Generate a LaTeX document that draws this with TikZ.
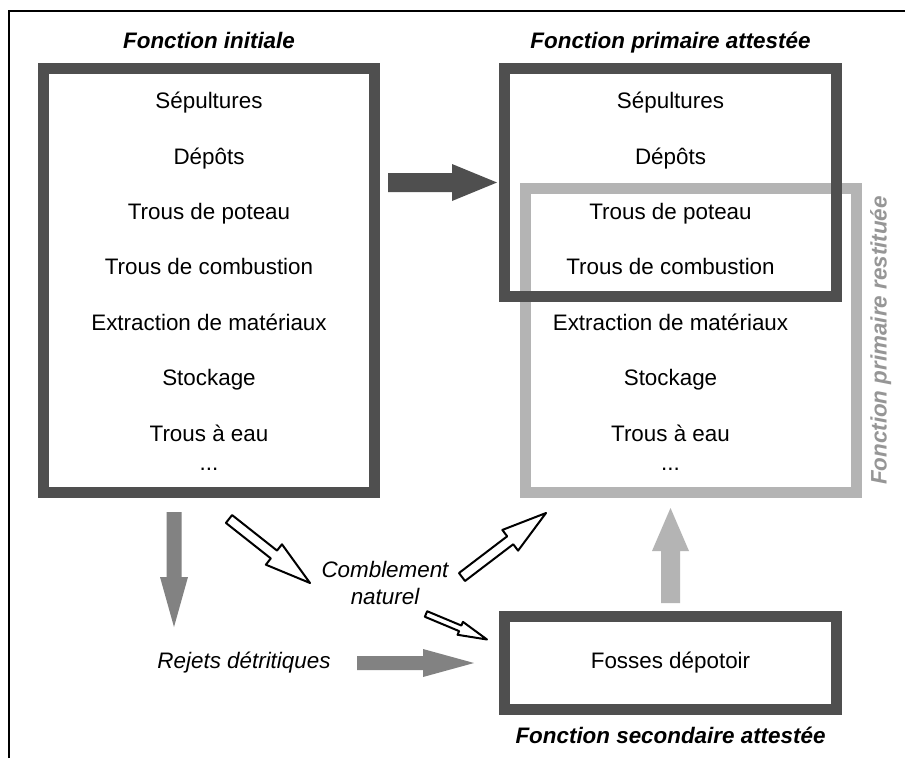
\documentclass[tikz,border=0pt]{standalone}
\usepackage{fontspec}
\setmainfont{Liberation Sans}
\usetikzlibrary{calc,positioning}
\definecolor{boxdark}{RGB}{79,79,79}
\definecolor{boxlight}{RGB}{180,180,180}
\definecolor{arrowgrey}{RGB}{130,130,130}
\definecolor{labelgrey}{RGB}{150,150,150}
\tikzset{
    % list entries inside the frames
    item/.style={font=\fontsize{22.4}{27}\selectfont, inner sep=0pt,
        text height=16pt, text depth=5pt},
    % frame captions
    heading/.style={item, font=\fontsize{22.4}{27}\selectfont\bfseries\itshape},
    % free italic labels
    note/.style={font=\fontsize{22.4}{27}\selectfont\itshape, inner sep=0pt},
    % thick frames
    darkframe/.style={draw=boxdark, line width=11pt, inner sep=0pt},
    lightframe/.style={draw=boxlight, line width=11pt, inner sep=0pt},
    % block arrows
    solidarrow/.style={fill=#1, draw=none},
    hollowarrow/.style={fill=white, draw=black, line width=2pt, line join=round},
}
% block arrow: [style]{from}{to}{shaft half width}{head half width}{head length}
\newcommand{\blockarrow}[6][]{%
  \coordinate (ba-h) at ($(#3)!#6!(#2)$);
  \path[#1] ($(#2)!#4!90:(#3)$) -- ($(ba-h)!#4!90:(#3)$) -- ($(ba-h)!#5!90:(#3)$)
    -- (#3) -- ($(ba-h)!#5!-90:(#3)$) -- ($(ba-h)!#4!-90:(#3)$)
    -- ($(#2)!#4!-90:(#3)$) -- cycle;}

\begin{document}
\begin{tikzpicture}[x=1pt,y=-1pt]
  \useasboundingbox[fill=white] (0,0) rectangle (905,758);
  % outer frame, cut at right and bottom
  \draw[line width=2pt] (9,758) -- (9,11) -- (905,11);

  % frames
  \node[lightframe, minimum width=331pt, minimum height=304pt] (restit) at (691,340.5) {};
  \node[darkframe, minimum width=331pt, minimum height=424pt] (initiale) at (209,280.5) {};
  \node[darkframe, minimum width=332pt, minimum height=228pt] (attestee) at (670.5,182.5) {};
  \node[darkframe, minimum width=332pt, minimum height=93pt] (depotoir) at (670.5,663) {};

  % captions
  \node[heading, above=9.5pt of initiale] (initlbl) {Fonction initiale};
  \node[heading, above=9.5pt of attestee] (attlbl) {Fonction primaire attestée};
  \node[heading, below=12.5pt of depotoir] (seclbl) {Fonction secondaire attestée};
  \node[heading, rotate=90, text=labelgrey] (restlbl) at ([xshift=19pt]restit.east)
    {Fonction primaire restituée};

  % initial function
  \node[item, below=29.5pt of initiale.north] (i1) {Sépultures};
  \node[item, below=34pt of i1] (i2) {Dépôts};
  \node[item, below=34pt of i2] (i3) {Trous de poteau};
  \node[item, below=34pt of i3] (i4) {Trous de combustion};
  \node[item, below=34pt of i4] (i5) {Extraction de matériaux};
  \node[item, below=34pt of i5] (i6) {Stockage};
  \node[item, below=34pt of i6] (i7) {Trous à eau};
  \node[item, below=8pt of i7] (i8) {...};

  % primary function
  \node[item, below=29.5pt of attestee.north] (p1) {Sépultures};
  \node[item, below=34pt of p1] (p2) {Dépôts};
  \node[item, below=34pt of p2] (p3) {Trous de poteau};
  \node[item, below=34pt of p3] (p4) {Trous de combustion};
  \node[item, below=34pt of p4] (p5) {Extraction de matériaux};
  \node[item, below=34pt of p5] (p6) {Stockage};
  \node[item, below=34pt of p6] (p7) {Trous à eau};
  \node[item, below=8pt of p7] (p8) {...};

  \node[item] (fosses) at (depotoir) {Fosses dépotoir};
  \node[note] (rejets) at (244,663) {Rejets détritiques};
  \node[note, align=center] (comblement) at (385,583) {Comblement\\naturel};

  % arrows
  \coordinate (da-e) at ([xshift=-2pt]attestee.west);
  \coordinate (da-s) at ([xshift=8pt]initiale.east |- da-e);
  \blockarrow[solidarrow=boxdark]{da-s}{da-e}{9.5pt}{18.5pt}{45pt}
  \coordinate (rd-s) at (174,512);
  \coordinate (rd-e) at (174,627);
  \blockarrow[solidarrow=arrowgrey]{rd-s}{rd-e}{7.5pt}{14pt}{50pt}
  \coordinate (rr-s) at (357,663);
  \coordinate (rr-e) at (474,663);
  \blockarrow[solidarrow=arrowgrey]{rr-s}{rr-e}{7pt}{14pt}{51pt}
  \coordinate (up-s) at ([yshift=8pt]depotoir.north);
  \coordinate (up-e) at (670.5,508);
  \blockarrow[solidarrow=boxlight]{up-s}{up-e}{9.5pt}{18.5pt}{43pt}
  \coordinate (h1-s) at (229,519);
  \coordinate (h1-e) at (310,583);
  \blockarrow[hollowarrow]{h1-s}{h1-e}{5pt}{13pt}{46pt}
  \coordinate (h2-s) at (462,577);
  \coordinate (h2-e) at (546,513);
  \blockarrow[hollowarrow]{h2-s}{h2-e}{5pt}{13pt}{45pt}
  \coordinate (h3-s) at (426,614);
  \coordinate (h3-e) at (487,639.5);
  \blockarrow[hollowarrow]{h3-s}{h3-e}{3pt}{7pt}{29pt}
\end{tikzpicture}
\end{document}
